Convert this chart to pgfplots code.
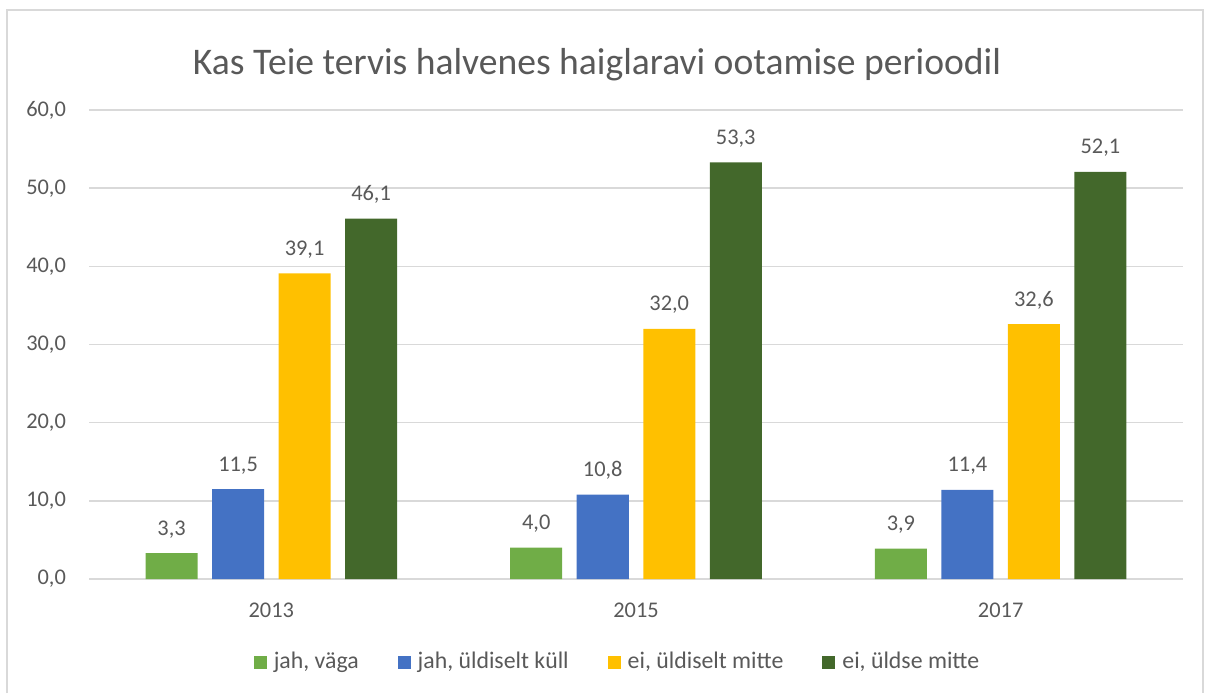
\documentclass[border=0pt]{standalone}
\usepackage{pgfplots}
\pgfplotsset{compat=1.18}
\usepackage{fontspec}
\setmainfont{Carlito}
\definecolor{cGreen}{HTML}{70AD47}
\definecolor{cBlue}{HTML}{4472C4}
\definecolor{cYellow}{HTML}{FFC000}
\definecolor{cDark}{HTML}{43682B}
\definecolor{txt}{HTML}{595959}
\definecolor{gridc}{HTML}{D9D9D9}
\begin{document}
\begin{tikzpicture}[x=1pt,y=1pt]
\useasboundingbox (0,0) rectangle (603,346.5);
\draw[draw=gridc, line width=0.75pt] (3.5,0) -- (3.5,341.5) -- (601.5,341.5) -- (601.5,0);
\node[font=\fontsize{18.8}{22}\selectfont, text=txt] at (298.5,314) {Kas Teie tervis halvenes haiglaravi ootamise perioodil};
\begin{axis}[
  at={(44.5pt,57pt)}, anchor=south west,
  scale only axis, width=547pt, height=234.5pt,
  ybar=7.25pt, bar width=26pt,
  xmin=-0.5, xmax=2.5, ymin=0, ymax=60,
  xtick=data, xticklabels={2013,2015,2017},
  ytick={0,10,...,60},
  ymajorgrids, xmajorgrids=false, grid style={draw=gridc, line width=0.75pt},
  axis x line*=bottom, axis y line*=left,
  x axis line style={draw=gridc, line width=0.75pt},
  y axis line style={draw=none},
  major tick length=0pt,
  tick label style={font=\fontsize{11.2}{13}\selectfont, text=txt},
  yticklabel style={xshift=-8pt},
  xticklabel style={yshift=-8.5pt},
  /pgf/number format/.cd, fixed, fixed zerofill, precision=1, use comma, assume math mode=true,
  /pgfplots/.cd,
  nodes near coords,
  every node near coord/.append style={font=\fontsize{11.2}{13}\selectfont, text=txt, yshift=4pt,
    /pgf/number format/.cd, fixed, fixed zerofill, precision=1, use comma, assume math mode=true},
  legend style={at={(axis description cs:0.4831,-0.177)}, anchor=center, draw=none, fill=none,
    legend columns=4, font=\fontsize{11.9}{14}\selectfont, text=txt,
    nodes={inner sep=1pt},
    /tikz/every odd column/.append style={column sep=2.5pt},
    /tikz/every even column/.append style={column sep=18.5pt}},
  legend image code/.code={\fill[#1] (0pt,-3.25pt) rectangle (6.5pt,3.25pt);},
]
\addplot[draw=none, fill=cGreen] coordinates {(0,3.3) (1,4.0) (2,3.9)};
\addplot[draw=none, fill=cBlue] coordinates {(0,11.5) (1,10.8) (2,11.4)};
\addplot[draw=none, fill=cYellow] coordinates {(0,39.1) (1,32.0) (2,32.6)};
\addplot[draw=none, fill=cDark] coordinates {(0,46.1) (1,53.3) (2,52.1)};
\legend{{jah, väga},{jah, üldiselt küll},{ei, üldiselt mitte},{ei, üldse mitte}}
\end{axis}
\end{tikzpicture}
\end{document}
